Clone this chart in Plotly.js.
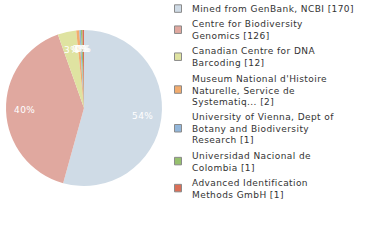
<!DOCTYPE html>
<html><head><meta charset="utf-8">
<script src="https://cdn.plot.ly/plotly-3.0.1.min.js"></script>
<style>html,body{margin:0;padding:0;background:#fff}
.annotation-text{letter-spacing:0.42px}
.annotation.pct .annotation-text{letter-spacing:1px}
</style>
</head><body><div id="chart" style="width:380px;height:240px"></div>
<script>
var labelLines = [
  ["Mined from GenBank, NCBI [170]"],
  ["Centre for Biodiversity", "Genomics [126]"],
  ["Canadian Centre for DNA", "Barcoding [12]"],
  ["Museum National d'Histoire", "Naturelle, Service de", "Systematiq... [2]"],
  ["University of Vienna, Dept of", "Botany and Biodiversity", "Research [1]"],
  ["Universidad Nacional de", "Colombia [1]"],
  ["Advanced Identification", "Methods GmbH [1]"]
];
var values = [170, 126, 12, 2, 1, 1, 1];
var colors = ["#cfdbe6", "#e0a89f", "#dfe3a1", "#f2ac6e", "#92b6da", "#96c06e", "#da6f58"];
var labels = labelLines.map(function(l){ return l.join(" "); });

var total = values.reduce(function(a, b){ return a + b; }, 0);
var pct = values.map(function(v){ return Math.floor(v / total * 100) + "%"; });

var W = 380, H = 240, CX = 84, CY = 108, R = 78;
var dom = {x: [(CX - R) / W, (CX + R) / W], y: [1 - (CY + R) / H, 1 - (CY - R) / H]};

var annotations = [];
var shapes = [];

// percentage labels on each slice's bisector
var cum = 0;
values.forEach(function(v, i){
  var mid = (cum + v / 2) / total * 2 * Math.PI;
  cum += v;
  var r = 0.76 * R;
  annotations.push({
    xref: "paper", yref: "paper",
    x: (CX + r * Math.sin(mid)) / W,
    y: 1 - (CY - r * Math.cos(mid)) / H,
    text: pct[i], showarrow: false,
    font: {family: "DejaVu Sans", size: 9, color: "#fff"},
    xanchor: "center", yanchor: "middle", name: "pct"
  });
});

// legend: swatch + wrapped label for each slice
var LH = 11.7, GAP = 3.6, y0 = 9.3;
var lineTop = y0;
labelLines.forEach(function(lines, i){
  var n = lines.length;
  var midY = lineTop + (n - 1) * LH / 2;
  shapes.push({
    type: "rect", xref: "paper", yref: "paper",
    x0: 174.5 / W, x1: 181.5 / W,
    y0: 1 - (midY - 4.5) / H, y1: 1 - (midY + 3) / H,
    fillcolor: colors[i], line: {color: "#8a8a8a", width: 1}
  });
  annotations.push({
    xref: "paper", yref: "paper",
    x: 190 / W, y: 1 - midY / H,
    text: lines.join("<br>"), showarrow: false, align: "left",
    font: {family: "DejaVu Sans", size: 9, color: "#333"},
    xanchor: "left", yanchor: "middle"
  });
  lineTop += n * LH + GAP;
});

var trace = {
  type: "pie",
  labels: labels,
  values: values,
  textinfo: "none",
  sort: false,
  direction: "clockwise",
  rotation: 0,
  marker: {colors: colors, line: {width: 0}},
  domain: dom,
  hoverinfo: "none"
};

var layout = {
  width: W, height: H,
  margin: {l: 0, r: 0, t: 0, b: 0},
  paper_bgcolor: "#fff",
  showlegend: false,
  annotations: annotations,
  shapes: shapes
};
Plotly.newPlot("chart", [trace], layout, {staticPlot: true});
</script></body></html>
